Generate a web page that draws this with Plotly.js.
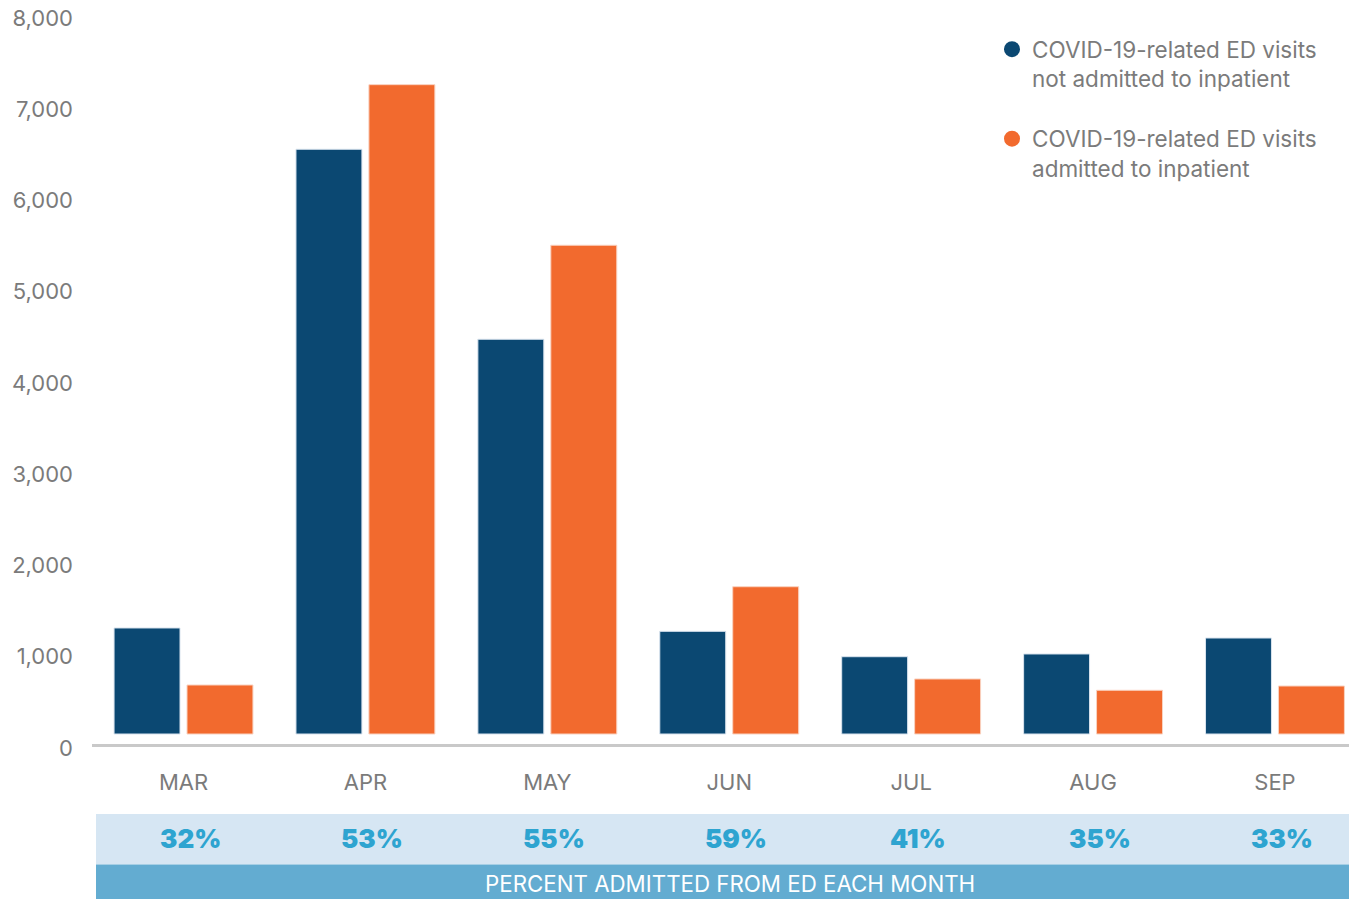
<!DOCTYPE html>
<html>
<head>
<meta charset="utf-8">
<script src="https://cdn.plot.ly/plotly-3.0.1.min.js"></script>
<style>html,body{margin:0;padding:0;background:#fff;}#chart{width:1349px;height:899px;}</style>
</head>
<body>
<div id="chart"></div>
<script>
const months = ["MAR", "APR", "MAY", "JUN", "JUL", "AUG", "SEP"];
const notAdmitted = [1162, 6408, 4326, 1125, 847, 877, 1052];
const admitted = [537, 7116, 5356, 1614, 603, 479, 526];
const percentAdmitted = ["32%", "53%", "55%", "59%", "41%", "35%", "33%"];
const yTickVals = [0, 1000, 2000, 3000, 4000, 5000, 6000, 7000, 8000];
const yTickText = ["0", "1,000", "2,000", "3,000", "4,000", "5,000", "6,000", "7,000", "8,000"];
const seriesNames = ["COVID-19-related ED visits<br>not admitted to inpatient", "COVID-19-related ED visits<br>admitted to inpatient"];
const bandTitle = "PERCENT ADMITTED FROM ED EACH MONTH";

const NAVY = "#0b4872", ORANGE = "#f26a2e";
const GRAY = "#7b7b7b";
const FONT = "Inter, Roboto, sans-serif";

const traces = [
  {type: "bar", x: months, y: notAdmitted, name: seriesNames[0], showlegend: false, legendgroup: "a",
   marker: {color: NAVY, line: {color: "#d9e3ee", width: 1}}, hoverinfo: "x+y"},
  {type: "bar", x: months, y: admitted, name: seriesNames[1], showlegend: false, legendgroup: "b",
   marker: {color: ORANGE, line: {color: "#f9d2c0", width: 1}}, hoverinfo: "x+y"},
  {type: "scatter", mode: "markers", x: [null], y: [null], name: seriesNames[0], legendgroup: "a",
   marker: {color: NAVY, size: 16, symbol: "circle"}},
  {type: "scatter", mode: "markers", x: [null], y: [null], name: seriesNames[1], legendgroup: "b",
   marker: {color: ORANGE, size: 16, symbol: "circle"}}
];

// pixel helpers for paper coordinates (plot area: top 4, bottom 744, left 92, width 1257)
const PT = 4, PB = 744, PL = 92, PW = 1257;
const py = p => (PB - p) / (PB - PT);
const px = p => (p - PL) / PW;

const annotations = months.map((m, i) => ({
  x: m, xref: "x", y: py(839), yref: "paper", text: percentAdmitted[i], showarrow: false,
  xshift: 7, font: {family: "Inter, Roboto, sans-serif", size: 26, color: "#2ea4d0", weight: 900},
  xanchor: "center", yanchor: "middle"
}));
annotations.push({
  x: px(730), xref: "paper", y: py(883), yref: "paper", text: bandTitle, showarrow: false,
  font: {family: FONT, size: 22.3, color: "#ffffff"}, xanchor: "center", yanchor: "middle"
});

const layout = {
  width: 1349, height: 899,
  margin: {l: PL, r: 0, t: PT, b: 899 - PB, pad: 0},
  paper_bgcolor: "#ffffff", plot_bgcolor: "#ffffff",
  font: {family: FONT, color: GRAY},
  barmode: "group", bargap: 0.198, bargroupgap: 0.096,
  xaxis: {
    type: "category", range: [-0.503, 6.407], showgrid: false, zeroline: false,
    showline: true, linecolor: "#c9c9c9", linewidth: 3, ticks: "",
    tickfont: {size: 22, color: GRAY, family: FONT}, ticklabelstandoff: 17
  },
  yaxis: {
    range: [-109.6, 8000], showgrid: false, zeroline: false, showline: false,
    tickvals: yTickVals, ticktext: yTickText, ticks: "",
    tickfont: {size: 22, color: GRAY, family: FONT}, ticklabelshift: 14, ticklabelstandoff: 18
  },
  legend: {
    x: px(992), xanchor: "left", y: py(28), yanchor: "top",
    font: {size: 22.5, color: GRAY, family: FONT}, valign: "top",
    traceorder: "grouped", tracegroupgap: 28, bgcolor: "rgba(0,0,0,0)", itemclick: false
  },
  shapes: [
    {type: "rect", xref: "paper", yref: "paper", x0: px(96), x1: 1, y0: py(814), y1: py(864.5),
     fillcolor: "#d6e6f3", line: {width: 0}, layer: "below"},
    {type: "rect", xref: "paper", yref: "paper", x0: px(96), x1: 1, y0: py(864.5), y1: py(899),
     fillcolor: "#63acd1", line: {width: 0}, layer: "below"}
  ],
  annotations: annotations,
  showlegend: true
};

Plotly.newPlot("chart", traces, layout, {displayModeBar: false});
</script>
</body>
</html>
